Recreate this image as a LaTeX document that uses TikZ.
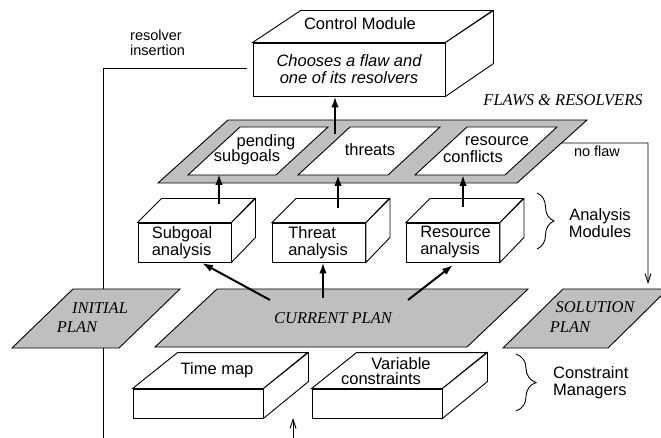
\documentclass[tikz,border=0pt]{standalone}
\usepackage{fontspec}
\setmainfont{Liberation Sans}
\newfontfamily\tms{Liberation Serif}
\usetikzlibrary{arrows.meta,decorations.pathreplacing,calc}
\begin{document}
\begin{tikzpicture}[x=1pt,y=-1pt,
  face/.style={draw,fill=white,line width=0.9pt},
  plane/.style={draw,fill=gray!50,line width=0.9pt},
  hole/.style={draw,fill=white,line width=0.9pt},
  lbl/.style={font=\fontsize{16.5}{17}\selectfont,inner sep=0pt,align=center},
  ilbl/.style={font=\fontsize{16.5}{17}\selectfont\itshape,inner sep=0pt,align=center},
  tlbl/.style={font=\fontsize{16.5}{19}\selectfont\tms\itshape,inner sep=0pt},
  slbl/.style={font=\fontsize{14.5}{15}\selectfont,inner sep=0pt,align=left},
  big/.style={line width=2pt,-{Latex[length=11pt,width=7.5pt]}},
  fine/.style={line width=0.9pt,-{Straight Barb[length=9pt,width=6pt]}},
  brc/.style={draw,line width=0.9pt,decorate,decoration={brace,amplitude=#1}},
  frontA/.style={face,minimum width=93pt,minimum height=39pt,inner sep=0pt},
  frontC/.style={face,minimum width=130pt,minimum height=29pt,inner sep=0pt},
]
\useasboundingbox (0,0) rectangle (661,438);

% resolver insertion line
\coordinate (ribot) at (103,438);
\coordinate (ricorner) at (103,68);
\coordinate (riend) at (247,68);
\draw[line width=0.9pt] (ribot) -- (ricorner) -- (riend);
\node[slbl,anchor=west] (ritext) at (130,42.5) {resolver\\insertion};

% Control module
\node[face,minimum width=192pt,minimum height=53pt,inner sep=0pt] (cmf) at (349,69.5) {};
\draw[face] (cmf.north west) -- ++(48,-32) -- ++(192,0) -- (cmf.north east) -- cycle;
\draw[face] (cmf.north east) -- ++(48,-32) -- ++(0,53) -- (cmf.south east) -- cycle;
\node[ilbl] (cmtext) at (349,69) {Chooses a flaw and\\one of its resolvers};
\node[lbl] (cmt) at (360,24) {Control Module};

\node[tlbl] (flawtitle) at (563,100) {FLAWS \& RESOLVERS};

% Flaws platform
\coordinate (fr1) at (587,120);
\coordinate (fr2) at (517,183);
\draw[plane] (228,120) -- (fr1) -- (fr2) -- (158,183) -- cycle;
\draw[hole] (240,127) -- (328,127) -- (276,175) -- (188,175) -- cycle;
\draw[hole] (350,127) -- (440,127) -- (388,175) -- (298,175) -- cycle;
\draw[hole] (467,127) -- (557,127) -- (505,175) -- (415,175) -- cycle;
\node[lbl] (pend1) at (266,142) {pending};
\node[lbl] (pend2) at (247,157) {subgoals};
\node[lbl] (thr) at (370,150) {threats};
\node[lbl] (rc1) at (497,141) {resource};
\node[lbl] (rc2) at (473,157) {conflicts};

\coordinate (flsrc) at (335,134);
\draw[big] (flsrc) -- (flsrc |- cmf.south);

% no flaw
\coordinate (nf) at ($(fr1)!{23/63}!(fr2)$);
\coordinate (nfc) at (648,143);
\coordinate (nfend) at (648,284);
\draw[fine] (nf) -- (nfc) -- (nfend);
\node[slbl] (nftext) at (597,151) {no flaw};

% Analysis modules
\node[frontA] (sga) at (184.5,242.5) {};
\node[frontA] (tha) at (319,242.5) {};
\node[frontA] (rsa) at (453,242.5) {};
\foreach \n in {sga,tha,rsa}{
  \draw[face] (\n.north west) -- ++(24,-24) -- ++(93,0) -- (\n.north east) -- cycle;
  \draw[face] (\n.north east) -- ++(24,-24) -- ++(0,39) -- (\n.south east) -- cycle;
}
\node[lbl,anchor=west,align=left] (sgat) at ([xshift=14pt]sga.west) {Subgoal\\analysis};
\node[lbl,anchor=west,align=left] (that) at ([xshift=16pt]tha.west) {Threat\\analysis};
\node[lbl,anchor=west,align=left] (rsat) at ([xshift=14pt]rsa.west) {Resource\\analysis};

\coordinate (sgup) at (219,204);
\coordinate (thup) at (338,208);
\coordinate (rsup) at (463,207);
\draw[big] (sgup) -- (219,174);
\draw[big] (thup) -- (338,175);
\draw[big] (rsup) -- (463,175);

\coordinate (ambt) at (537,193);
\coordinate (ambb) at (537,249);
\draw[brc=17pt] (ambt) -- (ambb);
\node[lbl] (amtext) at (600,223) {Analysis\\Modules};

% Plans
\draw[plane] (73,289) -- (180,289) -- (119,348) -- (12,348) -- cycle;
\node[tlbl] (ip1) at (100,308) {INITIAL};
\node[tlbl] (ip2) at (77,327) {PLAN};

\draw[plane] (217,289) -- (528,289) -- (467,347) -- (155,347) -- cycle;
\node[tlbl] (cp) at (333,318) {CURRENT PLAN};

\draw[plane] (563,289) -- (668,289) -- (608,348) -- (503,348) -- cycle;
\node[tlbl] (sp1) at (595,307) {SOLUTION};
\node[tlbl] (sp2) at (570,327) {PLAN};

\coordinate (cpa) at (270,300);
\coordinate (cpb) at (323,298);
\coordinate (cpc) at (408,300);
\draw[big] (cpa) -- (202,263);
\draw[big] (cpb) -- (cpb |- tha.south);
\draw[big] (cpc) -- (453,265);

% Constraint managers
\node[frontC] (tm) at (198,403.5) {};
\node[frontC] (vc) at (377,403.5) {};
\foreach \n in {tm,vc}{
  \draw[face] (\n.north west) -- ++(45,-36) -- ++(130,0) -- (\n.north east) -- cycle;
  \draw[face] (\n.north east) -- ++(45,-36) -- ++(0,29) -- (\n.south east) -- cycle;
}
\node[lbl] (tmt) at (217,370) {Time map};
\node[lbl] (vct1) at (401,364) {Variable};
\node[lbl] (vct2) at (381,379) {constraints};

\coordinate (cmbt) at (516,354);
\coordinate (cmbb) at (516,411);
\draw[brc=20pt] (cmbt) -- (cmbb);
\node[lbl,anchor=west,align=left] (cmtx) at (553,383) {Constraint\\Managers};

\coordinate (btm) at (293,438);
\coordinate (btmend) at (293,418);
\draw[fine] (btm) -- (btmend);
\end{tikzpicture}
\end{document}
